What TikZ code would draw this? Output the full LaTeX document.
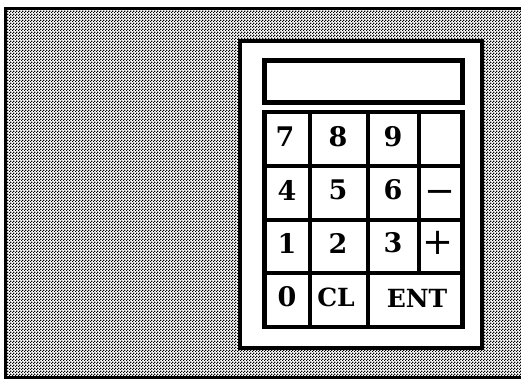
\documentclass[tikz,border=0pt]{standalone}
\usepackage{fontspec}
\setmainfont{DejaVu Serif}
\usetikzlibrary{patterns}
\pgfdeclarepatternformonly{dither}{\pgfpointorigin}{\pgfpoint{3pt}{3pt}}{\pgfpoint{3pt}{3pt}}{%
  \pgfpathrectangle{\pgfpointorigin}{\pgfpoint{1.6pt}{1.6pt}}%
  \pgfpathrectangle{\pgfpoint{1.5pt}{1.5pt}}{\pgfpoint{1.6pt}{1.6pt}}%
  \pgfusepath{fill}}
\tikzset{
  frame/.style={line width=3pt},
  body/.style={line width=4.5pt, fill=white},
  pad/.style={line width=4.5pt, fill=white},
  keyline/.style={line width=3.5pt},
  keylabel/.style={font=\bfseries\fontsize{27}{27}\selectfont, inner sep=0pt},
  wordlabel/.style={font=\bfseries\fontsize{25}{25}\selectfont, inner sep=0pt},
  signlabel/.style={font=\mdseries\fontsize{37}{37}\selectfont, inner sep=0pt},
}
\begin{document}
\begin{tikzpicture}[x=1pt,y=-1pt]
\useasboundingbox (0,0) rectangle (521,379);
% background
\fill[pattern=dither, pattern color=black] (5.5,9) rectangle (521,377);
\draw[frame] (521,9) -- (5.5,9) -- (5.5,377) -- (521,377);
% calculator body
\draw[body] (240,41) rectangle (482,348);
% display
\draw[pad] (264.5,60.5) rectangle (462.5,102.5);
% keypad
\draw[pad] (264.5,112) rectangle (462.5,327);
\coordinate (c1t) at (310,112); \coordinate (c1b) at (310,327);
\coordinate (c2t) at (368,112); \coordinate (c2b) at (368,327);
\coordinate (c3t) at (419,112); \coordinate (c3b) at (419,273);
\draw[keyline] (c1t) -- (c1b);
\draw[keyline] (c2t) -- (c2b);
\draw[keyline] (c3t) -- (c3b);
\coordinate (r1l) at (264.5,166); \coordinate (r1r) at (462.5,166);
\coordinate (r2l) at (264.5,220); \coordinate (r2r) at (462.5,220);
\coordinate (r3l) at (264.5,273); \coordinate (r3r) at (462.5,273);
\draw[keyline] (r1l) -- (r1r);
\draw[keyline] (r2l) -- (r2r);
\draw[keyline] (r3l) -- (r3r);
% labels
\node[keylabel] (k7) at (285,137) {7};
\node[keylabel] (k8) at (338,137) {8};
\node[keylabel] (k9) at (393,137) {9};
\node[keylabel] (k4) at (287,190) {4};
\node[keylabel] (k5) at (338,190) {5};
\node[keylabel] (k6) at (393,190) {6};
\node[signlabel] (kminus) at (439.5,197) {\symbol{"2212}};
\node[keylabel] (k1) at (287,243) {1};
\node[keylabel] (k2) at (338,243) {2};
\node[keylabel] (k3) at (393,243) {3};
\node[signlabel] (kplus) at (438,243) {+};
\node[keylabel] (k0) at (287,297) {0};
\node[wordlabel] (kcl) at (336,297) {CL};
\node[wordlabel] (kent) at (417,298) {ENT};
\end{tikzpicture}
\end{document}
